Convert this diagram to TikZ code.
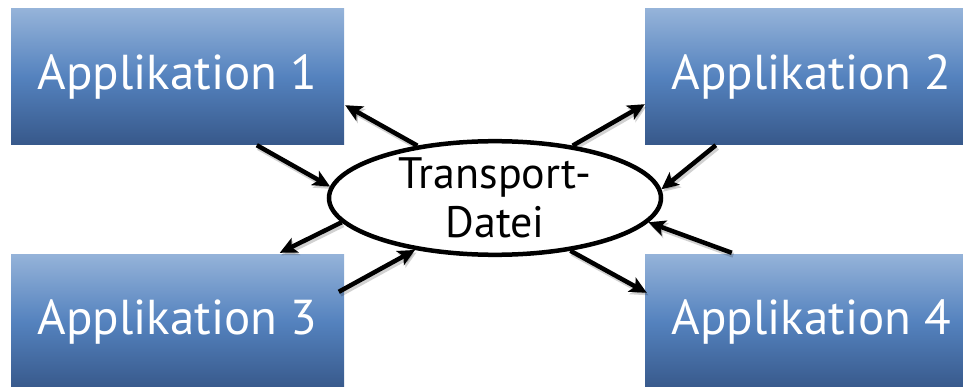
\documentclass[tikz,border=0pt]{standalone}
\usepackage{fontspec}
\setmainfont{PT Sans}
\usetikzlibrary{calc,shapes.geometric,arrows.meta}
\begin{document}
\begin{tikzpicture}[x=1pt,y=1pt,
  appbox/.style={rectangle, minimum width=333pt, minimum height=136pt, inner sep=0pt,
    top color=appTop, bottom color=appBot, middle color=appMid,
    text=white, font=\fontsize{49}{54}\selectfont},
  hub/.style={ellipse, draw=black, line width=4.5pt, fill=white,
    minimum width=332pt, minimum height=107pt, inner sep=0pt,
    align=center, font=\fontsize{44}{49}\selectfont},
  flowtip/.style={-{Stealth[length=17pt,width=16pt,inset=4pt]}},
  flow/.style={line width=4.5pt, flowtip},
  flowshadow/.style={line width=5pt, flowtip, black, opacity=0.18,
    transform canvas={shift={(1.5pt,-2.5pt)}}}]
\definecolor{appTop}{RGB}{149,179,217}
\definecolor{appMid}{RGB}{84,130,190}
\definecolor{appBot}{RGB}{55,88,138}
\useasboundingbox (0,0) rectangle (963,386);
\begin{scope}
\clip (0,0) rectangle (963,386);
\node[appbox] (b1) at (177.5,309) {Applikation 1};
\node[appbox] (b2) at (811.5,309) {Applikation 2};
\node[appbox] (b3) at (177.5,64) {Applikation 3};
\node[appbox] (b4) at (811.5,64) {Applikation 4};
\end{scope}
\node[hub] (tf) at (495,188) {Transport-\\Datei};
% end points on the application boxes
\coordinate (p1) at ($(b1.south east)+(1,40)$);
\coordinate (q1) at ($(b1.south west)+(246,0)$);
\coordinate (p2) at ($(b2.south west)+(0,41)$);
\coordinate (q2) at ($(b2.south west)+(71,0)$);
\coordinate (p3) at ($(b3.north west)+(269,1)$);
\coordinate (q3) at ($(b3.north west)+(328,-38)$);
\coordinate (p4) at ($(b4.north west)+(2,-39)$);
\coordinate (q4) at ($(b4.north west)+(87,1)$);
% arrows between the hub and the four applications, each with a soft shadow
\foreach \s in {flowshadow, flow} {
  \draw[\s] (tf.146) -- (p1);
  \draw[\s] (q1) -- (tf.176);
  \draw[\s] (tf.34) -- (p2);
  \draw[\s] (q2) -- (tf.3);
  \draw[\s] (tf.189) -- (p3);
  \draw[\s] (q3) -- (tf.213);
  \draw[\s] (tf.325) -- (p4);
  \draw[\s] (q4) -- (tf.351);
}
\end{tikzpicture}
\end{document}
